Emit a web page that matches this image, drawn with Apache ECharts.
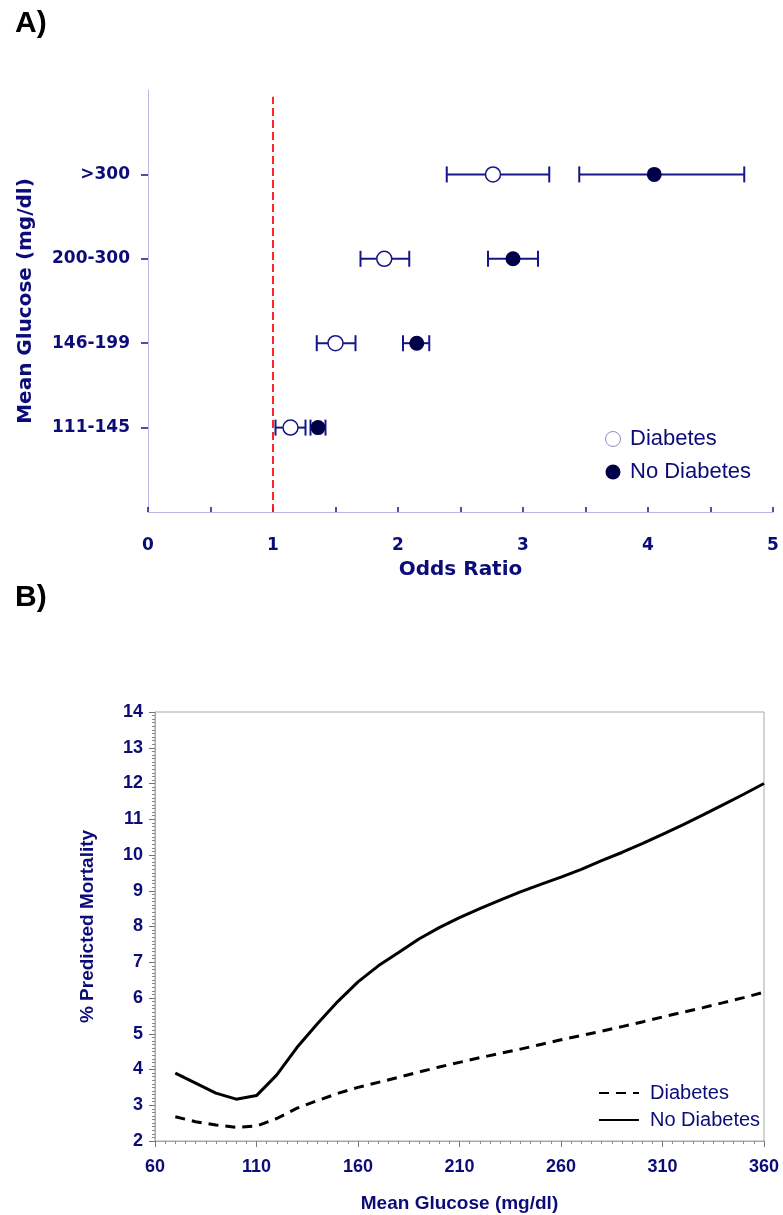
<!DOCTYPE html>
<html>
<head>
<meta charset="utf-8">
<script src="https://cdn.jsdelivr.net/npm/echarts@6/dist/echarts.min.js"></script>
<style>
  html, body { margin: 0; padding: 0; background: #fff; }
  #chartA { position: absolute; left: 0; top: 0; width: 783px; height: 582px; }
  #chartB { position: absolute; left: 0; top: 560px; width: 783px; height: 655px; }
</style>
</head>
<body>
<div id="chartA"></div>
<div id="chartB"></div>
<script>
// panel A: odds ratios by glucose group (rows 1..4 on the y axis)
const groupLabels = ['111-145', '146-199', '200-300', '>300'];
const groupRows = [1, 2, 3, 4];
const diabOR = [1.14, 1.50, 1.89, 2.76];
const diabLo = [1.02, 1.35, 1.70, 2.39];
const diabHi = [1.26, 1.66, 2.09, 3.21];
const noDiabOR = [1.36, 2.15, 2.92, 4.05];
const noDiabLo = [1.30, 2.04, 2.72, 3.45];
const noDiabHi = [1.42, 2.25, 3.12, 4.77];
const refOR = 1;

// panel B: predicted mortality curves
const glucose = [70, 80, 90, 100, 110, 120, 130, 140, 150, 160, 170, 180, 190, 200, 210,
  220, 230, 240, 250, 260, 270, 280, 290, 300, 310, 320, 330, 340, 350, 360];
const mortDiab = [2.68, 2.54, 2.45, 2.38, 2.42, 2.63, 2.92, 3.13, 3.33, 3.50, 3.64, 3.78, 3.93, 4.07, 4.20,
  4.33, 4.45, 4.57, 4.70, 4.83, 4.95, 5.07, 5.20, 5.33, 5.47, 5.60, 5.73, 5.87, 6.01, 6.16];
const mortNoDiab = [3.90, 3.62, 3.34, 3.17, 3.27, 3.85, 4.62, 5.28, 5.90, 6.45, 6.90, 7.27, 7.65, 7.97, 8.25,
  8.50, 8.74, 8.97, 9.18, 9.38, 9.60, 9.84, 10.07, 10.32, 10.58, 10.84, 11.12, 11.41, 11.70, 12.00];

const navy = '#0c0c78';
const barColor = '#16168a';

function ciData(lo, hi) {
  let out = [];
  for (let i = 0; i < lo.length; i++) out.push([lo[i], hi[i], groupRows[i]]);
  return out;
}
function pointData(v) {
  return v.map((x, i) => [x, groupRows[i]]);
}
function renderBar(params, api) {
  let a = api.coord([api.value(0), api.value(2)]);
  let b = api.coord([api.value(1), api.value(2)]);
  let h = 8;
  let st = { stroke: barColor, lineWidth: 2 };
  return {
    type: 'group',
    children: [
      { type: 'line', shape: { x1: a[0], y1: a[1], x2: b[0], y2: b[1] }, style: st },
      { type: 'line', shape: { x1: a[0], y1: a[1] - h, x2: a[0], y2: a[1] + h }, style: st },
      { type: 'line', shape: { x1: b[0], y1: b[1] - h, x2: b[0], y2: b[1] + h }, style: st }
    ]
  };
}

let chartA = echarts.init(document.getElementById('chartA'));
chartA.setOption({
  animation: false,
  title: {
    text: 'A)', left: 10, top: 4,
    textStyle: { fontFamily: 'Liberation Sans', fontSize: 30, fontWeight: 'bold', color: '#000' }
  },
  grid: { left: 148, right: 10, top: 90, bottom: 70, outerBoundsMode: 'none' },
  legend: {
    orient: 'vertical', left: 600, top: 423, itemGap: 11,
    itemWidth: 18, itemHeight: 15, selectedMode: false,
    textStyle: { fontFamily: 'Liberation Sans', fontSize: 22, color: navy, padding: [0, 0, 0, 3] },
    data: [
      { name: 'Diabetes', icon: 'circle', itemStyle: { color: '#fff', borderColor: '#8c8cc8', borderWidth: 1 } },
      { name: 'No Diabetes', icon: 'circle', itemStyle: { color: '#000048' } }
    ]
  },
  xAxis: {
    type: 'value', min: 0, max: 5, interval: 0.5,
    name: 'Odds Ratio', nameLocation: 'middle', nameGap: 48,
    nameTextStyle: { fontFamily: 'DejaVu Sans', fontSize: 20, fontWeight: 'bold', color: navy },
    axisLine: { lineStyle: { color: '#b8b8e4', width: 1 } },
    axisTick: { inside: true, length: 5, lineStyle: { color: barColor, width: 1.5 } },
    axisLabel: {
      margin: 25, fontFamily: 'DejaVu Sans', fontSize: 17, fontWeight: 'bold', color: navy,
      formatter: v => (v % 1 === 0 ? String(v) : '')
    },
    splitLine: { show: false }
  },
  yAxis: {
    type: 'value', min: 0, max: 5, interval: 1,
    name: 'Mean Glucose (mg/dl)', nameLocation: 'middle', nameGap: 112,
    nameTextStyle: { fontFamily: 'DejaVu Sans', fontSize: 20, fontWeight: 'bold', color: navy },
    axisLine: { show: true, lineStyle: { color: '#b8b8e4', width: 1 } },
    axisTick: { show: true, length: 7, customValues: groupRows, lineStyle: { color: barColor, width: 1.5 } },
    axisLabel: {
      margin: 18, customValues: groupRows, fontFamily: 'DejaVu Sans', fontSize: 17, fontWeight: 'bold', color: navy,
      formatter: v => groupLabels[groupRows.indexOf(v)] || ''
    },
    splitLine: { show: false }
  },
  series: [
    {
      name: 'CI Diabetes', type: 'custom', renderItem: renderBar,
      encode: { x: [0, 1], y: 2 }, data: ciData(diabLo, diabHi), z: 2
    },
    {
      name: 'CI No Diabetes', type: 'custom', renderItem: renderBar,
      encode: { x: [0, 1], y: 2 }, data: ciData(noDiabLo, noDiabHi), z: 2
    },
    {
      name: 'Diabetes', type: 'scatter', symbol: 'circle', symbolSize: 15, z: 3,
      itemStyle: { color: '#fff', borderColor: barColor, borderWidth: 1.5, opacity: 1 },
      data: pointData(diabOR),
      markLine: {
        silent: true, symbol: 'none', label: { show: false },
        lineStyle: { color: '#ff1010', type: [8, 4], width: 1.8 },
        data: [[{ xAxis: refOR, yAxis: 0 }, { xAxis: refOR, yAxis: 4.92 }]]
      }
    },
    {
      name: 'No Diabetes', type: 'scatter', symbol: 'circle', symbolSize: 15, z: 3,
      itemStyle: { color: '#000048', opacity: 1 },
      data: pointData(noDiabOR)
    }
  ]
});

let chartB = echarts.init(document.getElementById('chartB'));
chartB.setOption({
  animation: false,
  title: {
    text: 'B)', left: 10, top: 18,
    textStyle: { fontFamily: 'Liberation Sans', fontSize: 30, fontWeight: 'bold', color: '#000' }
  },
  grid: { left: 155, right: 19, top: 152, bottom: 74, show: true, borderColor: '#a8a8a8', borderWidth: 1, outerBoundsMode: 'none' },
  legend: {
    orient: 'vertical', left: 593, top: 518, itemGap: 7,
    itemWidth: 40, itemHeight: 14, selectedMode: false,
    itemStyle: { opacity: 0 },
    lineStyle: { width: 2 },
    textStyle: { fontFamily: 'Liberation Sans', fontSize: 20, color: navy, padding: [0, 0, 0, 6] },
    data: ['Diabetes', 'No Diabetes']
  },
  xAxis: {
    type: 'value', min: 60, max: 360, interval: 50,
    name: 'Mean Glucose (mg/dl)', nameLocation: 'middle', nameGap: 53,
    nameTextStyle: { fontFamily: 'Liberation Sans', fontSize: 19, fontWeight: 'bold', color: navy },
    axisLine: { lineStyle: { color: '#a8a8a8', width: 1 } },
    axisTick: { length: 6, lineStyle: { color: '#777', width: 1 } },
    minorTick: { show: true, splitNumber: 10, length: 3, lineStyle: { color: '#888', width: 1 } },
    axisLabel: { margin: 17, fontFamily: 'Liberation Sans', fontSize: 18, fontWeight: 'bold', color: navy },
    splitLine: { show: false }
  },
  yAxis: {
    type: 'value', min: 2, max: 14, interval: 1,
    name: '% Predicted Mortality', nameLocation: 'middle', nameGap: 58,
    nameTextStyle: { fontFamily: 'Liberation Sans', fontSize: 19, fontWeight: 'bold', color: navy },
    axisLine: { show: true, lineStyle: { color: '#a8a8a8', width: 1 } },
    axisTick: { show: true, length: 6, lineStyle: { color: '#777', width: 1 } },
    minorTick: { show: true, splitNumber: 10, length: 3, lineStyle: { color: '#888', width: 1 } },
    axisLabel: { margin: 12, fontFamily: 'Liberation Sans', fontSize: 18, fontWeight: 'bold', color: navy },
    splitLine: { show: false }
  },
  series: [
    {
      name: 'Diabetes', type: 'line', symbol: 'none',
      lineStyle: { color: '#000', width: 3, type: [10, 7] },
      itemStyle: { color: '#000' },
      data: glucose.map((g, i) => [g, mortDiab[i]])
    },
    {
      name: 'No Diabetes', type: 'line', symbol: 'none',
      lineStyle: { color: '#000', width: 3 },
      itemStyle: { color: '#000' },
      data: glucose.map((g, i) => [g, mortNoDiab[i]])
    }
  ]
});
</script>
</body>
</html>
